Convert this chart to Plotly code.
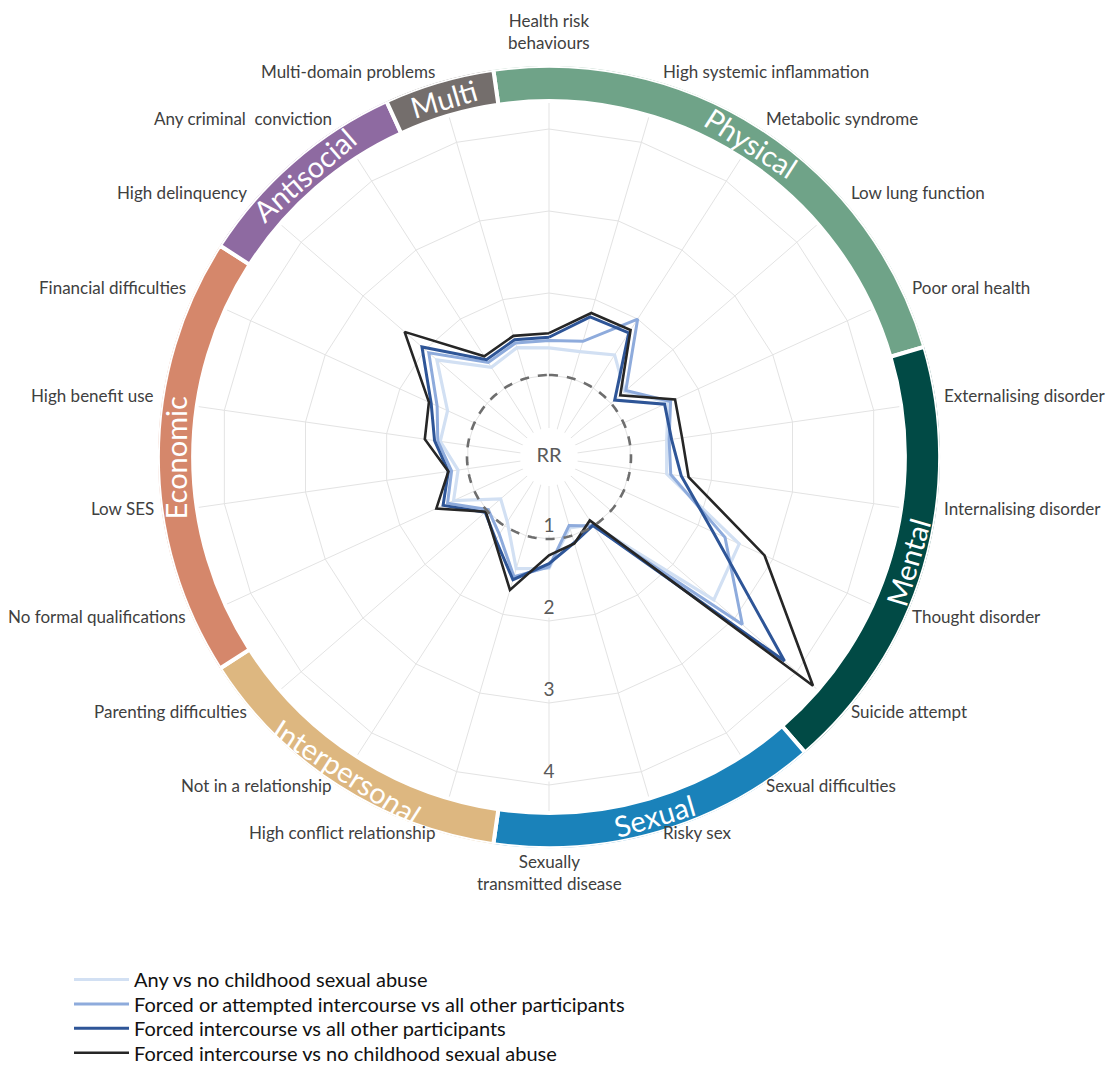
import math
import plotly.graph_objects as go

# ---------------- data ----------------
CATEGORIES = [
    "Health risk<br>behaviours", "High systemic inflammation", "Metabolic syndrome",
    "Low lung function", "Poor oral health", "Externalising disorder",
    "Internalising disorder", "Thought disorder", "Suicide attempt",
    "Sexual difficulties", "Risky sex", "Sexually<br>transmitted disease",
    "High conflict relationship", "Not in a relationship", "Parenting difficulties",
    "No formal qualifications", "Low SES", "High benefit use",
    "Financial difficulties", "High delinquency", "Any criminal  conviction",
    "Multi-domain problems",
]

ANY_CSA = [1.33, 1.34, 1.48, 1.22, 1.60, 1.45, 1.45, 2.55, 2.66, 0.98, 0.90,
           1.36, 1.42, 0.94, 0.78, 1.28, 1.12, 1.34, 1.36, 1.81, 1.30, 1.39]
FORCED_OR_ATTEMPTED = [1.42, 1.47, 2.00, 1.24, 1.63, 1.48, 1.50, 2.36, 3.12, 1.00, 0.87,
                       1.34, 1.52, 1.12, 0.98, 1.36, 1.20, 1.37, 1.50, 1.94, 1.37, 1.45]
FORCED_VS_ALL = [1.46, 1.78, 1.80, 1.06, 1.55, 1.51, 1.63, 2.20, 3.80, 0.99, 1.09,
                 1.30, 1.56, 1.20, 1.03, 1.42, 1.24, 1.41, 1.58, 2.05, 1.41, 1.49]
FORCED_VS_NONE = [1.51, 1.83, 1.84, 1.15, 1.69, 1.64, 1.72, 2.89, 4.26, 0.92, 1.10,
                  1.20, 1.69, 1.22, 1.02, 1.51, 1.24, 1.53, 1.61, 2.33, 1.46, 1.54]

SERIES_NAMES = [
    "Any vs no childhood sexual abuse",
    "Forced or attempted intercourse vs all other participants",
    "Forced intercourse vs all other participants",
    "Forced intercourse vs no childhood sexual abuse",
]

DOMAIN_NAMES = ["Physical", "Mental", "Sexual", "Interpersonal", "Economic", "Antisocial", "Multi"]
DOMAIN_SIZES = [5, 4, 3, 3, 4, 2, 1]

TICK_VALS = [1, 2, 3, 4]
TICK_TEXT = ["1", "2", "3", "4"]
REF_RR = 1
CENTRE_LABEL = "RR"

# ---------------- style ----------------
SERIES_COLORS = ["#d2e0f3", "#8eabdc", "#2e5597", "#262626"]
SERIES_WIDTHS = [3.2, 3.0, 3.0, 2.6]
DOMAIN_COLORS = ["#6fa388", "#014a45", "#1a82ba", "#ddb780", "#d5876b", "#8e6aa1", "#746e6c"]
FONT = "Lato"

W, H = 1108, 1065
CX, CY = 549, 457          # centre in page pixels (from top)
PPU = 82                   # pixels per RR unit
R_IN = 4.34                # inner edge of domain ring (RR units)
R_OUT = 4.77               # outer edge of domain ring (RR units)
TICK_LABEL_OFFSET = 0.14   # tick labels sit just inside their grid ring
LABEL_R_PX = 397           # radius of category label anchors (px)
LABEL_LIFT = 5             # small upward shift of category labels (px)
LEGEND_X_PX = 69
LEGEND_FIRST_PX = 980
LEGEND_STEP_PX = 24.4


def domain(radius_px):
    cy_b = H - CY
    return dict(x=[(CX - radius_px) / W, (CX + radius_px) / W],
                y=[(cy_b - radius_px) / H, (cy_b + radius_px) / H])


N = len(CATEGORIES)
step = 360.0 / N

fig = go.Figure()

# data lines (polar, linear grid) - each in its own legend box for exact spacing
legend_ids = ["legend", "legend2", "legend3", "legend4"]
for name, vals, col, w, lg in zip(SERIES_NAMES,
                                  [ANY_CSA, FORCED_OR_ATTEMPTED, FORCED_VS_ALL, FORCED_VS_NONE],
                                  SERIES_COLORS, SERIES_WIDTHS, legend_ids):
    fig.add_trace(go.Scatterpolar(
        r=vals + vals[:1], theta=CATEGORIES + CATEGORIES[:1],
        mode="lines", name=name, line=dict(color=col, width=w),
        subplot="polar", hoverinfo="skip", legend=lg))

# domain ring (polar2, circular)
starts = []
acc = 0
for s in DOMAIN_SIZES:
    starts.append(acc)
    acc += s
centres = [(st - 0.5) * step + s * step / 2 for st, s in zip(starts, DOMAIN_SIZES)]
widths = [s * step for s in DOMAIN_SIZES]
fig.add_trace(go.Barpolar(
    r=[R_OUT - R_IN] * len(DOMAIN_NAMES), base=[R_IN] * len(DOMAIN_NAMES),
    theta=centres, width=widths,
    marker=dict(color=DOMAIN_COLORS, line=dict(color="white", width=4)),
    showlegend=False, hoverinfo="skip", subplot="polar2"))

# dashed RR = 1 reference circle
circ_theta = list(range(0, 361, 2))
fig.add_trace(go.Scatterpolar(
    r=[REF_RR] * len(circ_theta), theta=circ_theta, mode="lines",
    line=dict(color="#6e6e6e", width=2.6, dash="dash"),
    showlegend=False, hoverinfo="skip", subplot="polar2"))

# radial tick labels with white background (bottom spoke)
fig.add_trace(go.Scatterpolar(
    r=[v - TICK_LABEL_OFFSET for v in TICK_VALS], theta=[180] * len(TICK_VALS),
    mode="markers+text", text=TICK_TEXT, textposition="middle center",
    textfont=dict(size=19, color="#5a5a5a", family=FONT),
    marker=dict(color="white", size=16, symbol="square"),
    showlegend=False, hoverinfo="skip", subplot="polar2"))
fig.add_trace(go.Scatterpolar(
    r=[0.001], theta=[0], mode="markers+text", text=[CENTRE_LABEL],
    textposition="middle center", textfont=dict(size=20, color="#5a5a5a", family=FONT),
    marker=dict(color="white", size=58), showlegend=False, hoverinfo="skip",
    subplot="polar2"))

annotations = []
# category labels around the ring
for k, lab in enumerate(CATEGORIES):
    phi = math.radians(k * step)
    s, c = math.sin(phi), math.cos(phi)
    x_px = CX + LABEL_R_PX * s
    y_px = (H - CY) + LABEL_R_PX * c
    if abs(s) < 0.05:
        xa = "center"
        ya = "bottom" if c > 0 else "top"
    else:
        xa = "left" if s > 0 else "right"
        ya = "middle"
    annotations.append(dict(
        x=x_px / W, y=y_px / H, xref="paper", yref="paper", text=lab,
        showarrow=False, xanchor=xa, yanchor=ya, yshift=LABEL_LIFT,
        font=dict(size=17, color="#404040", family=FONT)))

# domain names along the ring
r_txt = (R_IN + R_OUT) / 2 * PPU
for name, phi in zip(DOMAIN_NAMES, centres):
    rad = math.radians(phi)
    x_px = CX + r_txt * math.sin(rad)
    y_px = (H - CY) + r_txt * math.cos(rad)
    ang = phi if not (90 < phi < 270) else phi - 180
    if ang > 180:
        ang -= 360
    annotations.append(dict(
        x=x_px / W, y=y_px / H, xref="paper", yref="paper", text=name,
        showarrow=False, textangle=ang, xanchor="center", yanchor="middle",
        font=dict(size=29, color="white", family=FONT)))

legend_style = dict(xanchor="left", yanchor="top",
                    font=dict(size=20, color="#111111", family=FONT),
                    itemwidth=55, bgcolor="rgba(0,0,0,0)")
legend_layout = {}
for i, lg in enumerate(legend_ids):
    top_px = LEGEND_FIRST_PX + i * LEGEND_STEP_PX - 20
    legend_layout[lg] = dict(x=LEGEND_X_PX / W, y=1 - top_px / H, **legend_style)

fig.update_layout(
    width=W, height=H, margin=dict(l=0, r=0, t=0, b=0, autoexpand=False),
    paper_bgcolor="white", plot_bgcolor="white",
    font=dict(family=FONT, color="#404040"),
    polar=dict(
        domain=domain(R_IN * PPU), gridshape="linear", bgcolor="white",
        radialaxis=dict(range=[0, R_IN], tickvals=TICK_VALS, showticklabels=False,
                        ticks="", showline=False, gridcolor="#e3e3e3", gridwidth=1.2),
        angularaxis=dict(type="category", categoryarray=CATEGORIES, direction="clockwise",
                         rotation=90, showticklabels=False, ticks="", showline=False,
                         gridcolor="#e3e3e3", gridwidth=1.2),
    ),
    polar2=dict(
        domain=domain(R_OUT * PPU), bgcolor="rgba(0,0,0,0)",
        radialaxis=dict(range=[0, R_OUT], visible=False),
        angularaxis=dict(type="linear", thetaunit="degrees", direction="clockwise",
                         rotation=90, showticklabels=False,
                         showgrid=False, showline=False, ticks=""),
    ),
    annotations=annotations,
    **legend_layout,
)

fig.write_html("out.html")
